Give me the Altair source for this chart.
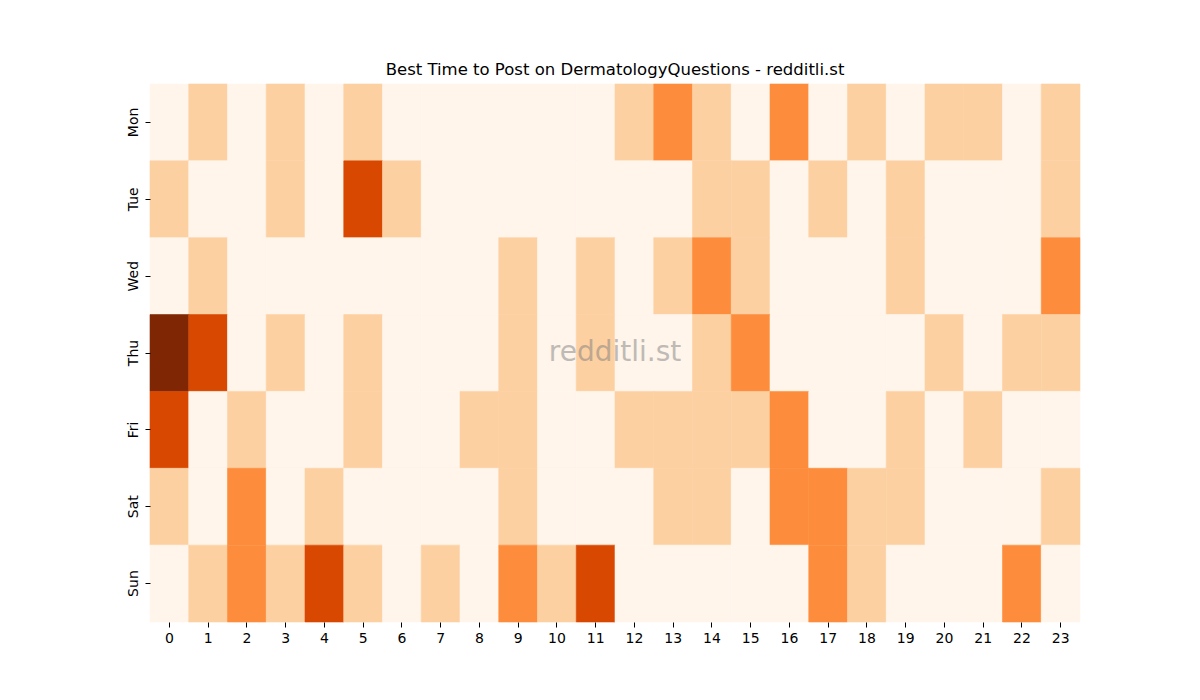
import altair as alt
import pandas as pd

days = ["Mon", "Tue", "Wed", "Thu", "Fri", "Sat", "Sun"]
hours = list(range(24))

mon = [0, 1, 0, 1, 0, 1, 0, 0, 0, 0, 0, 0, 1, 2, 1, 0, 2, 0, 1, 0, 1, 1, 0, 1]
tue = [1, 0, 0, 1, 0, 3, 1, 0, 0, 0, 0, 0, 0, 0, 1, 1, 0, 1, 0, 1, 0, 0, 0, 1]
wed = [0, 1, 0, 0, 0, 0, 0, 0, 0, 1, 0, 1, 0, 1, 2, 1, 0, 0, 0, 1, 0, 0, 0, 2]
thu = [4, 3, 0, 1, 0, 1, 0, 0, 0, 1, 0, 1, 0, 0, 1, 2, 0, 0, 0, 0, 1, 0, 1, 1]
fri = [3, 0, 1, 0, 0, 1, 0, 0, 1, 1, 0, 0, 1, 1, 1, 1, 2, 0, 0, 1, 0, 1, 0, 0]
sat = [1, 0, 2, 0, 1, 0, 0, 0, 0, 1, 0, 0, 0, 1, 1, 0, 2, 2, 1, 1, 0, 0, 0, 1]
sun = [0, 1, 2, 1, 3, 1, 0, 1, 0, 2, 1, 3, 0, 0, 0, 0, 0, 2, 1, 0, 0, 0, 2, 0]

rows = [mon, tue, wed, thu, fri, sat, sun]
records = []
for d, vals in zip(days, rows):
    for h, v in zip(hours, vals):
        records.append({"day": d, "hour": h, "value": v})
df = pd.DataFrame(records)

levels = [0, 1, 2, 3, 4]
colors = ["#fff5eb", "#fdd0a2", "#fd8d3c", "#d94801", "#7f2704"]
cscale = alt.Scale(domain=levels, range=colors)

heat = alt.Chart(df).mark_rect(strokeWidth=0.6).encode(
    x=alt.X("hour:O", sort=hours, title=None,
            scale=alt.Scale(paddingInner=0, paddingOuter=0),
            axis=alt.Axis(labelAngle=0, domain=False, tickSize=5, tickColor="#000",
                          labelFontSize=14, labelFont="DejaVu Sans", labelColor="#000",
                          labelPadding=4)),
    y=alt.Y("day:O", sort=days, title=None,
            scale=alt.Scale(paddingInner=0, paddingOuter=0),
            axis=alt.Axis(labelAngle=270, labelAlign="center", labelBaseline="bottom",
                          domain=False, tickSize=5, tickColor="#000",
                          labelFontSize=14, labelFont="DejaVu Sans", labelColor="#000",
                          labelPadding=5)),
    color=alt.Color("value:O", scale=cscale, legend=None),
    stroke=alt.Stroke("value:O", scale=cscale, legend=None),
)

wm = alt.Chart(pd.DataFrame({"t": ["redditli.st"]})).mark_text(
    fontSize=28, font="DejaVu Sans", color="#808080", opacity=0.5,
    align="center", baseline="middle"
).encode(x=alt.value(465), y=alt.value(269), text="t:N")

chart = alt.layer(heat, wm).properties(
    width=930, height=538,
    title=alt.TitleParams("Best Time to Post on DermatologyQuestions - redditli.st",
                          fontSize=16.5, font="DejaVu Sans", fontWeight="normal",
                          color="#000", anchor="middle", offset=5),
    padding={"left": 150, "top": 84, "right": 120, "bottom": 78},
    autosize=alt.AutoSizeParams(type="none"),
).configure_view(stroke=None)

chart.save("out.html", embed_options={"renderer": "svg", "actions": False})
